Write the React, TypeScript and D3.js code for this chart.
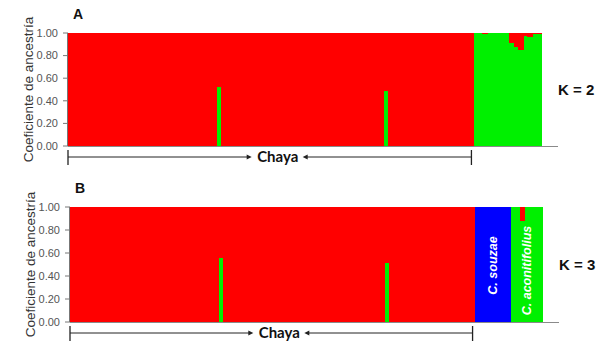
import React from "react";
import * as d3 from "d3";

// ---- Data (ancestry proportions per individual, 105 individuals) ----
// Individuals 0-89: Chaya; 90-97: C. souzae; 98-104: C. aconitifolius
const populations = ["Chaya", "C. souzae", "C. aconitifolius"];
const populationSizes = [90, 8, 7];
const yTicks = [0, 0.2, 0.4, 0.6, 0.8, 1.0];

// K = 2
const k2Green = [
  0, 0, 0, 0, 0, 0, 0, 0, 0, 0, 0, 0, 0, 0, 0,
  0, 0, 0, 0, 0, 0, 0, 0, 0, 0, 0, 0, 0, 0, 0,
  0, 0, 0, 0.52, 0, 0, 0, 0, 0, 0, 0, 0, 0, 0, 0,
  0, 0, 0, 0, 0, 0, 0, 0, 0, 0, 0, 0, 0, 0, 0,
  0, 0, 0, 0, 0, 0, 0, 0, 0, 0, 0.49, 0, 0, 0, 0,
  0, 0, 0, 0, 0, 0, 0, 0, 0, 0, 0, 0, 0, 0, 0,
  1, 1, 0.99, 1, 1, 1, 1, 1, 0.91, 0.88, 0.85, 0.97, 0.965, 0.99, 0.99,
];
const k2Red = [
  1, 1, 1, 1, 1, 1, 1, 1, 1, 1, 1, 1, 1, 1, 1,
  1, 1, 1, 1, 1, 1, 1, 1, 1, 1, 1, 1, 1, 1, 1,
  1, 1, 1, 0.48, 1, 1, 1, 1, 1, 1, 1, 1, 1, 1, 1,
  1, 1, 1, 1, 1, 1, 1, 1, 1, 1, 1, 1, 1, 1, 1,
  1, 1, 1, 1, 1, 1, 1, 1, 1, 1, 0.51, 1, 1, 1, 1,
  1, 1, 1, 1, 1, 1, 1, 1, 1, 1, 1, 1, 1, 1, 1,
  0, 0, 0.01, 0, 0, 0, 0, 0, 0.09, 0.12, 0.15, 0.03, 0.035, 0.01, 0.01,
];

// K = 3
const k3Green = [
  0, 0, 0, 0, 0, 0, 0, 0, 0, 0, 0, 0, 0, 0, 0,
  0, 0, 0, 0, 0, 0, 0, 0, 0, 0, 0, 0, 0, 0, 0,
  0, 0, 0, 0.56, 0, 0, 0, 0, 0, 0, 0, 0, 0, 0, 0,
  0, 0, 0, 0, 0, 0, 0, 0, 0, 0, 0, 0, 0, 0, 0,
  0, 0, 0, 0, 0, 0, 0, 0, 0, 0, 0.51, 0, 0, 0, 0,
  0, 0, 0, 0, 0, 0, 0, 0, 0, 0, 0, 0, 0, 0, 0,
  0, 0, 0, 0, 0, 0, 0, 0, 1, 1, 0.88, 1, 1, 1, 1,
];
const k3Blue = [
  0, 0, 0, 0, 0, 0, 0, 0, 0, 0, 0, 0, 0, 0, 0,
  0, 0, 0, 0, 0, 0, 0, 0, 0, 0, 0, 0, 0, 0, 0,
  0, 0, 0, 0, 0, 0, 0, 0, 0, 0, 0, 0, 0, 0, 0,
  0, 0, 0, 0, 0, 0, 0, 0, 0, 0, 0, 0, 0, 0, 0,
  0, 0, 0, 0, 0, 0, 0, 0, 0, 0, 0, 0, 0, 0, 0,
  0, 0, 0, 0, 0, 0, 0, 0, 0, 0, 0, 0, 0, 0, 0,
  1, 1, 1, 1, 1, 1, 1, 1, 0, 0, 0, 0, 0, 0, 0,
];
const k3Red = [
  1, 1, 1, 1, 1, 1, 1, 1, 1, 1, 1, 1, 1, 1, 1,
  1, 1, 1, 1, 1, 1, 1, 1, 1, 1, 1, 1, 1, 1, 1,
  1, 1, 1, 0.44, 1, 1, 1, 1, 1, 1, 1, 1, 1, 1, 1,
  1, 1, 1, 1, 1, 1, 1, 1, 1, 1, 1, 1, 1, 1, 1,
  1, 1, 1, 1, 1, 1, 1, 1, 1, 1, 0.49, 1, 1, 1, 1,
  1, 1, 1, 1, 1, 1, 1, 1, 1, 1, 1, 1, 1, 1, 1,
  0, 0, 0, 0, 0, 0, 0, 0, 0, 0, 0.12, 0, 0, 0, 0,
];

const COLORS: Record<string, string> = {
  green: "#00f000",
  blue: "#0000ff",
  red: "#ff0000",
};

type PanelProps = {
  letter: string;
  kLabel: string;
  series: Record<string, number[]>;
  keys: string[];
  x0: number;
  x1: number;
  yTop: number;
  yBottom: number;
  showGroupLabels: boolean;
};

function Panel({ letter, kLabel, series, keys, x0, x1, yTop, yBottom, showGroupLabels }: PanelProps) {
  const n = series[keys[0]].length;
  const ids = d3.range(n);
  const rows = ids.map((i) => {
    const r: Record<string, number> = { id: i };
    keys.forEach((k) => (r[k] = series[k][i]));
    return r;
  });
  const stacked = d3.stack<Record<string, number>>().keys(keys)(rows);
  const x = d3.scaleBand<number>().domain(ids).range([x0, x1]).padding(0);
  const y = d3.scaleLinear().domain([0, 1]).range([yBottom, yTop]);
  const fmt = d3.format(".2f");
  const bw = x.bandwidth();

  const starts: number[] = [];
  let acc = 0;
  populationSizes.forEach((s) => {
    starts.push(acc);
    acc += s;
  });
  const chayaLeft = x(0)!;
  const chayaRight = x(populationSizes[0] - 1)! + bw - 2;
  const bracketY = yBottom + 11;
  const midX = (chayaLeft + chayaRight) / 2 + 8;
  const fontTick = "'Liberation Sans', Arial, sans-serif";

  return (
    <g>
      {stacked.map((layer) => (
        <g key={layer.key} fill={COLORS[layer.key]} shapeRendering="crispEdges">
          {layer.map((d, i) =>
            d[1] - d[0] > 0 ? (
              <rect
                key={i}
                x={x(i)!}
                y={y(d[1])}
                width={bw + 0.8}
                height={y(d[0]) - y(d[1])}
              />
            ) : null
          )}
        </g>
      ))}
      <line x1={x0} x2={x1 + 17} y1={yBottom + 0.5} y2={yBottom + 0.5} stroke="#8a8a8a" strokeWidth={1} />
      <line x1={x0 - 0.5} x2={x0 - 0.5} y1={yTop} y2={yBottom} stroke="#777" strokeWidth={1} />
      {yTicks.map((t) => (
        <g key={t}>
          <line x1={x0 - 5} x2={x0} y1={y(t)} y2={y(t)} stroke="#777" />
          <text
            x={x0 - 10}
            y={y(t)}
            dy="0.35em"
            textAnchor="end"
            fontFamily={fontTick}
            fontSize={11}
            fill="#555"
          >
            {fmt(t)}
          </text>
        </g>
      ))}
      <text
        transform={`translate(${x0 - 40},${(yTop + yBottom) / 2}) rotate(-90)`}
        textAnchor="middle"
        dy="0.35em"
        fontFamily={fontTick}
        fontSize={13.5}
        fill="#333"
      >
        Coeficiente de ancestría
      </text>
      <text x={x0 + 5} y={yTop - 14} fontFamily={fontTick} fontWeight="bold" fontSize={14} fill="#111">
        {letter}
      </text>
      <text
        x={x1 + 17}
        y={(yTop + yBottom) / 2}
        dy="0.35em"
        fontFamily={fontTick}
        fontWeight="bold"
        fontSize={15}
        fill="#111"
      >
        {kLabel}
      </text>
      <line x1={chayaLeft} x2={chayaLeft} y1={bracketY - 7} y2={bracketY + 8} stroke="#222" strokeWidth={1.3} />
      <line x1={chayaRight} x2={chayaRight} y1={bracketY - 7} y2={bracketY + 8} stroke="#222" strokeWidth={1.3} />
      <line x1={chayaLeft} x2={midX - 28} y1={bracketY} y2={bracketY} stroke="#222" strokeWidth={1} />
      <line x1={midX + 27} x2={chayaRight} y1={bracketY} y2={bracketY} stroke="#222" strokeWidth={1} />
      <path
        d={`M${midX - 26},${bracketY} L${midX - 31},${bracketY - 2.5} L${midX - 31},${bracketY + 2.5} Z`}
        fill="#222"
      />
      <path
        d={`M${midX + 25},${bracketY} L${midX + 30},${bracketY - 2.5} L${midX + 30},${bracketY + 2.5} Z`}
        fill="#222"
      />
      <text
        x={midX}
        y={bracketY}
        dy="0.35em"
        textAnchor="middle"
        fontFamily="Lato, 'Open Sans', sans-serif"
        fontWeight="bold"
        fontSize={15}
        fill="#111"
      >
        {populations[0]}
      </text>
      {showGroupLabels &&
        populations.slice(1).map((p, j) => {
          const gi = j + 1;
          const left = x(starts[gi])!;
          const right = x(starts[gi] + populationSizes[gi] - 1)! + bw;
          const cx = (left + right) / 2;
          return (
            <text
              key={p}
              transform={`translate(${cx},${(yTop + yBottom) / 2 + (gi === 2 ? 6 : 1)}) rotate(-90)`}
              textAnchor="middle"
              dy="0.35em"
              fontFamily={fontTick}
              fontWeight="bold"
              fontStyle="italic"
              fontSize={12.5}
              fill="#fff"
            >
              {p}
            </text>
          );
        })}
    </g>
  );
}

export default function App() {
  return (
    <svg
      width={608}
      height={357}
      style={{ position: "absolute", left: 0, top: 0, background: "#fff" }}
    >
      <rect width={608} height={357} fill="#fff" />
      <Panel
        letter="A"
        kLabel="K = 2"
        series={{ green: k2Green, red: k2Red }}
        keys={["green", "red"]}
        x0={68}
        x1={541}
        yTop={33}
        yBottom={146}
        showGroupLabels={false}
      />
      <Panel
        letter="B"
        kLabel="K = 3"
        series={{ green: k3Green, blue: k3Blue, red: k3Red }}
        keys={["green", "blue", "red"]}
        x0={70}
        x1={542}
        yTop={207}
        yBottom={322}
        showGroupLabels={true}
      />
    </svg>
  );
}
